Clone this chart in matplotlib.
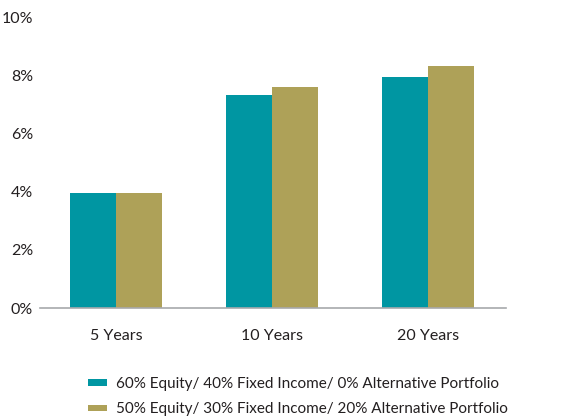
import matplotlib
matplotlib.use("Agg")
import matplotlib.pyplot as plt
import numpy as np

categories = ["5 Years", "10 Years", "20 Years"]
series_names = ["60% Equity/ 40% Fixed Income/ 0% Alternative Portfolio",
                "50% Equity/ 30% Fixed Income/ 20% Alternative Portfolio"]
series_a = [3.95, 7.32, 7.94]
series_b = [3.95, 7.59, 8.32]
yticks = [0, 2, 4, 6, 8, 10]
ytick_labels = ["0%", "2%", "4%", "6%", "8%", "10%"]
colors = ["#0096A2", "#AEA158"]

plt.rcParams['font.family'] = ['Lato', 'DejaVu Sans']
fs = 11.5
lfs = 11

fig = plt.figure(figsize=(5.74, 4.19), dpi=100)
ax = fig.add_axes([40/574, 1-308/419, (506-40)/574, (308-17)/419])

x = np.arange(len(categories))
w = 0.295
b1 = ax.bar(x - w/2, series_a, w, color=colors[0], label=series_names[0])
b2 = ax.bar(x + w/2, series_b, w, color=colors[1], label=series_names[1])

ax.set_xlim(-0.49, 2.5)
ax.set_ylim(0, 10)
ax.set_yticks(yticks)
ax.set_yticklabels(ytick_labels, fontsize=fs, color="#231F20")
ax.set_xticks(x)
ax.set_xticklabels(categories, fontsize=fs, color="#231F20")
ax.tick_params(axis='both', length=0)
ax.tick_params(axis='x', pad=15)
ax.tick_params(axis='y', pad=5)
for s in ["top", "right", "left"]:
    ax.spines[s].set_visible(False)
ax.spines["bottom"].set_color("#A7A9AC")
ax.spines["bottom"].set_linewidth(1.2)

fig.legend(handles=[b1, b2], labels=series_names, loc="upper left",
           bbox_to_anchor=(88/574, 1-377/419), frameon=False, fontsize=lfs,
           handlelength=1.25, handleheight=0.32, handletextpad=0.6,
           labelspacing=0.75, borderaxespad=0, borderpad=0,
           labelcolor="#231F20")

fig.savefig("out.png", dpi=100)
